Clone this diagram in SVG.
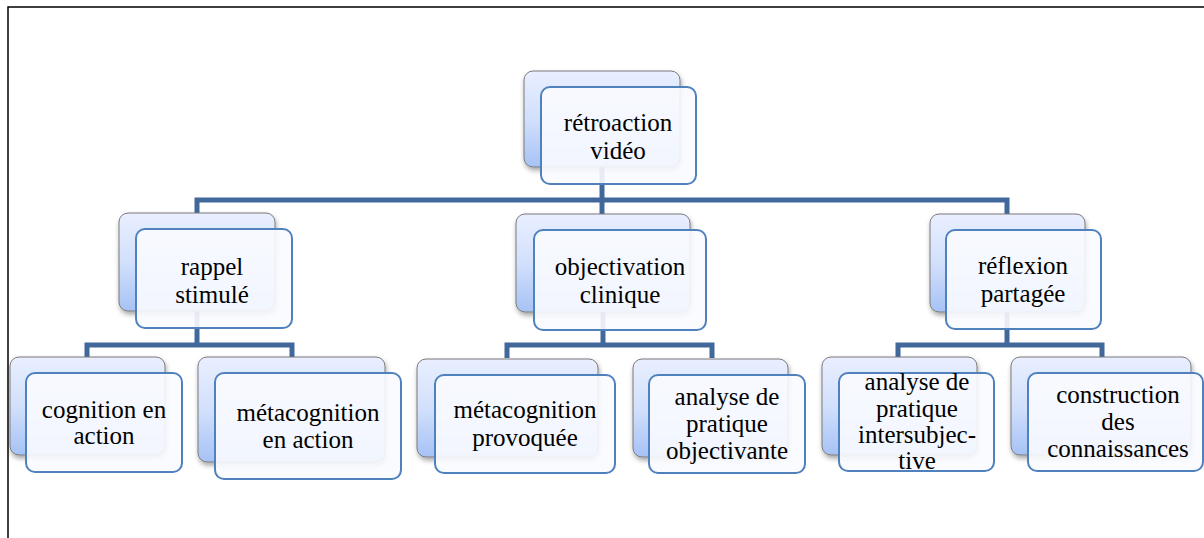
<svg xmlns="http://www.w3.org/2000/svg" width="1204" height="538" viewBox="0 0 1204 538">
<style>
.back{fill:url(#bg);stroke:#7a7a7a;stroke-width:1}
.front{fill:#f9fbff;fill-opacity:0.9;stroke:#4f81bd;stroke-width:2}
.conn{fill:none;stroke:#41689b;stroke-width:5;stroke-linejoin:miter}
.t{font-family:'Liberation Serif','Tinos','DejaVu Serif','Times New Roman',Times,serif;font-size:25px;fill:#000;text-anchor:middle}
</style>
<defs>
<linearGradient id="bg" x1="0" y1="0" x2="0" y2="1">
<stop offset="0" stop-color="#e9efff"/>
<stop offset="0.5" stop-color="#d2e0fc"/>
<stop offset="1" stop-color="#a6c2f5"/>
</linearGradient>
<filter id="sh" x="-10%" y="-10%" width="130%" height="140%">
<feDropShadow dx="1" dy="3" stdDeviation="2.5" flood-color="#000" flood-opacity="0.35"/>
</filter>
</defs>
<rect width="1204" height="538" fill="#fff"/>
<path d="M8,538 V7 H1204" fill="none" stroke="#000" stroke-width="1.5"/>
<g id="connectors">
<path class="conn" d="M197,214 V200 H1007 V214"/>
<path class="conn" d="M602,167 V214"/>
<path class="conn" d="M87,358 V345 H292 V358"/>
<path class="conn" d="M197,311 V345"/>
<path class="conn" d="M507,358 V345 H712 V358"/>
<path class="conn" d="M603,312 V345"/>
<path class="conn" d="M898,358 V345 H1102 V358"/>
<path class="conn" d="M1007,312 V345"/>
</g>
<g id="n-retroaction">
<rect class="back" x="524" y="71" width="156" height="96" rx="9" filter="url(#sh)"/>
<rect class="front" x="541" y="87" width="155" height="97" rx="9"/>
<text class="t" x="618" y="131">rétroaction</text>
<text class="t" x="618" y="159">vidéo</text>
</g>
<g id="n-rappel">
<rect class="back" x="119" y="213" width="156" height="98" rx="9" filter="url(#sh)"/>
<rect class="front" x="136" y="229" width="156" height="99" rx="9"/>
<text class="t" x="212" y="275">rappel</text>
<text class="t" x="212" y="303">stimulé</text>
</g>
<g id="n-objectivation">
<rect class="back" x="516" y="214" width="174" height="98" rx="9" filter="url(#sh)"/>
<rect class="front" x="534" y="230" width="172" height="100" rx="9"/>
<text class="t" x="620" y="275">objectivation</text>
<text class="t" x="620" y="303">clinique</text>
</g>
<g id="n-reflexion">
<rect class="back" x="930" y="214" width="155" height="98" rx="9" filter="url(#sh)"/>
<rect class="front" x="946" y="230" width="155" height="99" rx="9"/>
<text class="t" x="1023" y="274">réflexion</text>
<text class="t" x="1023" y="302">partagée</text>
</g>
<g id="n-cognition">
<rect class="back" x="10" y="357" width="155" height="98" rx="9" filter="url(#sh)"/>
<rect class="front" x="26" y="373" width="156" height="99" rx="9"/>
<text class="t" x="104" y="418">cognition en</text>
<text class="t" x="104" y="444">action</text>
</g>
<g id="n-metacognition-action">
<rect class="back" x="198" y="357" width="187" height="105" rx="9" filter="url(#sh)"/>
<rect class="front" x="215" y="373" width="186" height="106" rx="9"/>
<text class="t" x="308" y="421">métacognition</text>
<text class="t" x="308" y="448">en action</text>
</g>
<g id="n-metacognition-provoquee">
<rect class="back" x="417" y="359" width="181" height="98" rx="9" filter="url(#sh)"/>
<rect class="front" x="435" y="375" width="180" height="98" rx="9"/>
<text class="t" x="525" y="418">métacognition</text>
<text class="t" x="525" y="446">provoquée</text>
</g>
<g id="n-analyse-objectivante">
<rect class="back" x="633" y="359" width="155" height="98" rx="9" filter="url(#sh)"/>
<rect class="front" x="649" y="375" width="156" height="98" rx="9"/>
<text class="t" x="727" y="405">analyse de</text>
<text class="t" x="727" y="432">pratique</text>
<text class="t" x="727" y="459">objectivante</text>
</g>
<g id="n-analyse-intersubjective">
<rect class="back" x="822" y="357" width="155" height="98" rx="9" filter="url(#sh)"/>
<rect class="front" x="839" y="373" width="155" height="98" rx="9"/>
<text class="t" x="917" y="390">analyse de</text>
<text class="t" x="917" y="417">pratique</text>
<text class="t" x="917" y="443">intersubjec-</text>
<text class="t" x="917" y="469">tive</text>
</g>
<g id="n-construction">
<rect class="back" x="1011" y="357" width="180" height="98" rx="9" filter="url(#sh)"/>
<rect class="front" x="1028" y="373" width="175" height="98" rx="9"/>
<text class="t" x="1118" y="403">construction</text>
<text class="t" x="1118" y="430">des</text>
<text class="t" x="1118" y="457">connaissances</text>
</g>
</svg>
